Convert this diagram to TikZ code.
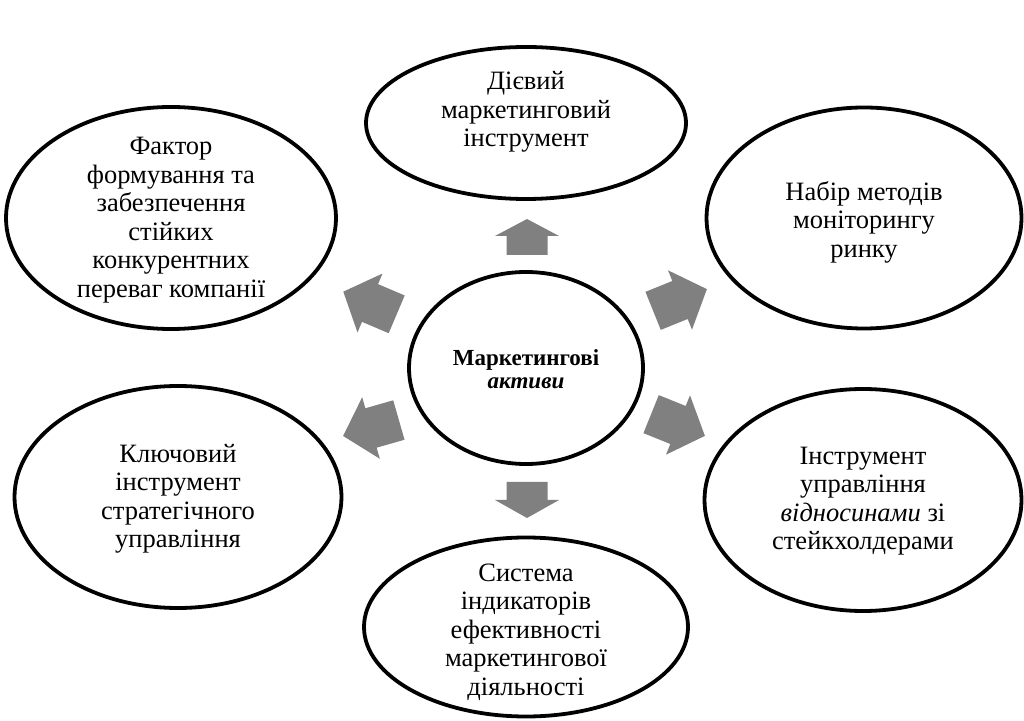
\documentclass[tikz,border=0pt]{standalone}
\usepackage{fontspec}
\setmainfont{Liberation Serif}
\usetikzlibrary{shapes.geometric}
\definecolor{arrowgray}{RGB}{128,128,128}
\tikzset{
  oval/.style={ellipse, draw=black, line width=3.8pt, fill=white, inner sep=0pt},
  txt/.style={font=\fontsize{26.5}{28.5}\selectfont, align=center, inner sep=0pt, text=black},
  ctxt/.style={font=\fontsize{23}{23.5}\selectfont\bfseries, align=center, inner sep=0pt, text=black},
  blockarrow/.style={fill=arrowgray}
}
\newcommand\myBlockArrow[5]{%
  \fill[blockarrow, shift={(#1,#2)}, rotate=#3]
    ({-#4/2},-20.5) -- ({#4/2-#5},-20.5) -- ({#4/2-#5},-32) -- ({#4/2},0) --
    ({#4/2-#5},32) -- ({#4/2-#5},20.5) -- ({-#4/2},20.5) -- cycle;}
\begin{document}
\begin{tikzpicture}[x=1pt,y=1pt]
\useasboundingbox[fill=white] (0,0) rectangle (1024,720);

% ellipses
\node[oval, minimum width=320pt, minimum height=152pt] (top) at (526,597) {};
\node[oval, minimum width=330pt, minimum height=222pt] (ul) at (171,502) {};
\node[oval, minimum width=315pt, minimum height=221pt] (ur) at (864,502) {};
\node[oval, minimum width=327pt, minimum height=222pt] (ll) at (178,223) {};
\node[oval, minimum width=317pt, minimum height=222pt] (lr) at (863,220) {};
\node[oval, minimum width=324pt, minimum height=179pt] (bot) at (526,93) {};
\node[oval, minimum width=234pt, minimum height=192pt] (mid) at (526,352) {};

% texts
\node[txt] (toptext) at (526,608) {Дієвий\\маркетинговий\\інструмент};
\node[txt] (ultext) at (171,500) {Фактор\\формування та\\забезпечення\\стійких\\конкурентних\\переваг компанії};
\node[txt] (urtext) at (864,498) {Набір методів\\моніторингу\\ринку};
\node[txt] (lltext) at (178,221) {Ключовий\\інструмент\\стратегічного\\управління};
\node[txt] (lrtext) at (863,219) {Інструмент\\управління\\\textit{відносинами} зі\\стейкхолдерами};
\node[txt] (bottext) at (526,88) {Система\\індикаторів\\ефективності\\маркетингової\\діяльності};
\node[ctxt] (midtext) at (526,351) {Маркетингові\\\textit{активи}};

% block arrows
\myBlockArrow{527}{483}{90}{36}{17}
\myBlockArrow{527}{220}{-90}{36}{18}
\myBlockArrow{680}{420}{22}{58}{29}
\myBlockArrow{678}{295}{-22}{58}{29}
\myBlockArrow{370}{417}{157}{58}{29}
\myBlockArrow{371}{292}{196}{58}{29}
\end{tikzpicture}
\end{document}
